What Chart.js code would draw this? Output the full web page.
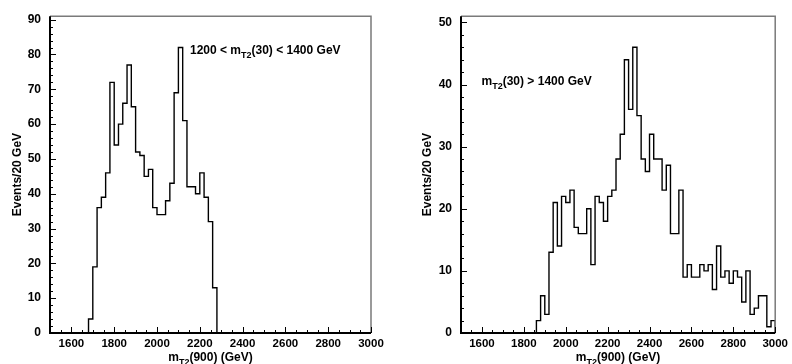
<!DOCTYPE html>
<html><head><meta charset="utf-8">
<script src="https://cdn.jsdelivr.net/npm/chart.js@4/dist/chart.umd.min.js"></script>
<style>
html,body{margin:0;padding:0;background:#fff;}
#wrap{position:relative;width:792px;height:364px;overflow:hidden;}
canvas{position:absolute;top:0;}
</style></head><body>
<div id="wrap">
<canvas id="c1" width="396" height="364" style="left:0"></canvas>
<canvas id="c2" width="396" height="364" style="left:396px"></canvas>
</div>
<script>
// ---- data ----
const binWidth = 20;                 // GeV per bin
const xRange = [1500, 3000];         // x axis range (GeV)
const xMajorStep = 200, xMinorStep = 50;
const yMajorStep = 10, yMinorStep = 2;

const leftFirstBin = 1680;
const leftCounts = [4,19,36,39,46,72,54,60,66,77,65,52,51,45,47,36,34,34,38,43,69,82,61,42,42,40,46,39,32,13];
const leftYMax = 91;
const leftLabel = ['1200 < m', 'T2', '(30) < 1400 GeV'];

const rightFirstBin = 1860;
const rightCounts = [2,6,3,13,21,14,22,21,23,17,16,16,20,11,22,21,18,22,23,28,32,44,36,46,35,28,26,32,28,28,23,27,16,16,23,9,11,9,9,11,10,11,7,14,9,10,8,10,9,5,10,3,4,6,6,1,2];
const rightYMax = 51;
const rightLabel = ['m', 'T2', '(30) > 1400 GeV'];

const xTitle = ['m', 'T2', '(900) (GeV)'];
const yTitle = 'Events/20 GeV';

// ---- helpers ----
function histPoints(first, counts){
  const pts = [{x: xRange[0], y: 0}];
  counts.forEach((c, i) => pts.push({x: first + i*binWidth, y: c}));
  pts.push({x: first + counts.length*binWidth, y: 0});
  if (first + counts.length*binWidth < xRange[1]) pts.push({x: xRange[1], y: 0});
  return pts;
}

const FONT = '"Liberation Sans", Arial, Helvetica, sans-serif';

function drawRich(ctx, x, y, parts, size, align){
  const subSize = Math.round(size*0.72);
  ctx.textBaseline = 'alphabetic';
  ctx.textAlign = 'left';
  ctx.font = 'bold ' + size + 'px ' + FONT;
  const w0 = ctx.measureText(parts[0]).width;
  const w2 = ctx.measureText(parts[2]).width;
  ctx.font = 'bold ' + subSize + 'px ' + FONT;
  const w1 = ctx.measureText(parts[1]).width;
  let sx = x;
  if (align === 'center') sx = x - (w0+w1+w2)/2;
  ctx.font = 'bold ' + size + 'px ' + FONT;
  ctx.fillText(parts[0], sx, y);
  ctx.font = 'bold ' + subSize + 'px ' + FONT;
  ctx.fillText(parts[1], sx + w0, y + size*0.3);
  ctx.font = 'bold ' + size + 'px ' + FONT;
  ctx.fillText(parts[2], sx + w0 + w1, y);
}

const rootFrame = {
  id: 'rootFrame',
  afterDatasetsDraw(chart, args, o){
    const {ctx, chartArea: a, scales: {x, y}} = chart;
    ctx.save();
    ctx.strokeStyle = '#7a7a7a'; ctx.lineWidth = 1.5;
    ctx.beginPath(); ctx.moveTo(a.left, a.top); ctx.lineTo(a.right, a.top); ctx.lineTo(a.right, a.bottom); ctx.stroke();
    ctx.strokeStyle = '#000'; ctx.lineWidth = 1;
    ctx.beginPath();
    x.ticks.forEach(t => {
      const px = Math.round(x.getPixelForValue(t.value)) + 0.5;
      const len = (t.value % xMajorStep === 0) ? 6 : 3;
      ctx.moveTo(px, a.bottom); ctx.lineTo(px, a.bottom - len);
    });
    y.ticks.forEach(t => {
      const py = Math.round(y.getPixelForValue(t.value)) + 0.5;
      const len = (t.value % yMajorStep === 0) ? 6 : 3;
      ctx.moveTo(a.left, py); ctx.lineTo(a.left + len, py);
    });
    ctx.stroke();
    ctx.lineWidth = 2;
    ctx.beginPath(); ctx.moveTo(a.left, a.top); ctx.lineTo(a.left, a.bottom); ctx.lineTo(a.right, a.bottom); ctx.stroke();
    ctx.fillStyle = '#000';
    drawRich(ctx, x.getPixelForValue(o.labelX), y.getPixelForValue(o.labelY), o.label, 12, 'left');
    drawRich(ctx, (a.left + a.right)/2, 361, xTitle, 12, 'center');
    ctx.save();
    ctx.translate(o.yTitleX, (a.top + a.bottom)/2);
    ctx.rotate(-Math.PI/2);
    ctx.font = 'bold 12px ' + FONT;
    ctx.textAlign = 'center'; ctx.textBaseline = 'middle';
    ctx.fillText(yTitle, 0, 0);
    ctx.restore();
    ctx.restore();
  }
};

function makeChart(id, first, counts, yMax, yWidth, pad, opts){
  return new Chart(document.getElementById(id), {
    type: 'line',
    data: { datasets: [{
      data: histPoints(first, counts),
      stepped: true, borderColor: '#000', borderWidth: 1.4,
      pointRadius: 0, fill: false, tension: 0
    }]},
    options: {
      responsive: false, animation: false,
      layout: { padding: pad },
      plugins: { legend: {display: false}, tooltip: {enabled: false}, rootFrame: opts },
      scales: {
        x: {
          type: 'linear', min: xRange[0], max: xRange[1],
          afterFit: s => { s.height = 31; },
          grid: { display: false, drawTicks: false },
          border: { display: false },
          ticks: {
            stepSize: xMinorStep, autoSkip: false, maxRotation: 0, minRotation: 0, includeBounds: false, padding: 4,
            color: '#000', font: { family: FONT, weight: 'bold', size: 11.5 },
            callback: v => (v % xMajorStep === 0 ? String(v) : '')
          }
        },
        y: {
          min: 0, max: yMax,
          afterFit: s => { s.width = yWidth; },
          grid: { display: false, drawTicks: false },
          border: { display: false },
          ticks: {
            stepSize: yMinorStep, autoSkip: false, includeBounds: false, padding: 9,
            color: '#000', font: { family: FONT, weight: 'bold', size: 12 },
            callback: v => (v % yMajorStep === 0 ? String(v) : '')
          }
        }
      }
    },
    plugins: [rootFrame]
  });
}

makeChart('c1', leftFirstBin, leftCounts, leftYMax, 50,
  {left: 0, right: 25, top: 14, bottom: 0},
  {label: leftLabel, labelX: 2154, labelY: 80, yTitleX: 18});
makeChart('c2', rightFirstBin, rightCounts, rightYMax, 65,
  {left: 0, right: 12, top: 14, bottom: 0},
  {label: rightLabel, labelX: 1598, labelY: 39.9, yTitleX: 32});
</script>
</body></html>
